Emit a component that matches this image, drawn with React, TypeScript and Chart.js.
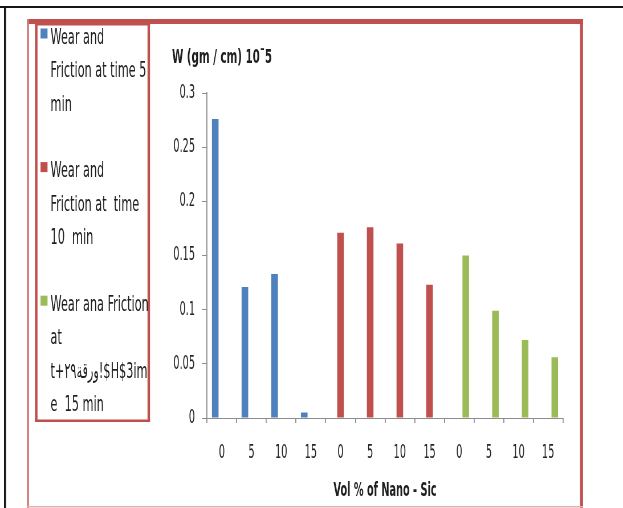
import { useEffect, useRef } from "react";
import { Chart, registerables } from "chart.js";

Chart.register(...registerables);

// ---------- data ----------
const categories = ["0", "5", "10", "15", "0", "5", "10", "15", "0", "5", "10", "15"];
const seriesNames = [
  "Wear and Friction at time 5 min",
  "Wear and Friction at  time 10  min",
  "Wear ana Friction at t+ورقة۲۹!$H$3ime  15 min",
];
const legendLines = [
  ["Wear and", "Friction at time 5", "min"],
  ["Wear and", "Friction at  time", "10  min"],
  ["Wear ana Friction", "at", "t+ورقة۲۹!$H$3im", "e  15 min"],
];
const wear5min = [0.276, 0.121, 0.133, 0.005, null, null, null, null, null, null, null, null];
const wear10min = [null, null, null, null, 0.171, 0.176, 0.161, 0.123, null, null, null, null];
const wear15min = [null, null, null, null, null, null, null, null, 0.15, 0.099, 0.072, 0.056];
const yTickValues = [0, 0.05, 0.1, 0.15, 0.2, 0.25, 0.3];
const yTickLabels = ["0", "0.05", "0.1", "0.15", "0.2", "0.25", "0.3"];
const yTitle = "W (gm / cm) 10ˉ5";
const xTitle = "Vol % of Nano - Sic";

// ---------- style ----------
const COLORS = ["#4f81bd", "#c0504d", "#9bbb59"];
const FONT = "'Liberation Sans Narrow', 'DejaVu Sans Condensed', 'Liberation Sans', sans-serif";
const DISPLAY_W = 623;
const DISPLAY_H = 508;
const LOGICAL_W = 1093; // drawn wider, shown narrower: gives the condensed look of the original
const SX = LOGICAL_W / DISPLAY_W;
const sx = (x: number) => x * SX;

const framePlugin = {
  id: "frames",
  beforeDraw(chart: any) {
    const ctx = chart.ctx as CanvasRenderingContext2D;
    ctx.save();
    ctx.fillStyle = "#ffffff";
    ctx.fillRect(0, 0, chart.width, chart.height);
    // black page lines
    ctx.fillStyle = "#161616";
    ctx.fillRect(0, 6, chart.width, 2);
    ctx.fillRect(sx(4), 6, sx(2), DISPLAY_H - 6);
    // outer red frame
    ctx.fillStyle = "#c0504d";
    ctx.fillRect(sx(27), 19, sx(556), 5);
    ctx.fillRect(sx(580), 19, sx(3), DISPLAY_H - 19);
    ctx.fillStyle = "#d07a77";
    ctx.fillRect(sx(27), 19, sx(2), DISPLAY_H - 19);
    ctx.fillStyle = "#e6adac";
    ctx.fillRect(sx(27), 506, sx(556), 1.5);
    ctx.restore();
  },
  afterDraw(chart: any) {
    const ctx = chart.ctx as CanvasRenderingContext2D;
    ctx.save();
    // legend box
    ctx.fillStyle = "#c0504d";
    ctx.fillRect(sx(35), 23, sx(115), 2.5);
    ctx.fillRect(sx(35), 419.5, sx(115), 2.5);
    ctx.fillRect(sx(35), 23, sx(2.5), 399);
    ctx.fillRect(sx(147.5), 23, sx(2.5), 399);
    // legend entries
    const lineGap = 33.4;
    let k = 0;
    ctx.font = `22px ${FONT}`;
    ctx.textBaseline = "middle";
    ctx.textAlign = "left";
    legendLines.forEach((lines, i) => {
      const yc = 37 + k * lineGap;
      ctx.fillStyle = COLORS[i];
      ctx.fillRect(sx(40.5), yc - 8.5, sx(7), 10);
      ctx.fillStyle = "#1f1f1f";
      lines.forEach((t, j) => {
        ctx.fillText(t, sx(50.5), 38 + (k + j) * lineGap);
      });
      k += lines.length + 1;
    });
    // value axis title (horizontal, above the axis)
    ctx.font = `bold 20px ${FONT}`;
    ctx.fillStyle = "#1f1f1f";
    ctx.fillText(yTitle, sx(172), 58);
    ctx.restore();
  },
};

export default function App() {
  const ref = useRef<HTMLCanvasElement | null>(null);

  useEffect(() => {
    if (!ref.current) return;
    const yAxisWidth = 80;
    const chart = new Chart(ref.current, {
      type: "bar",
      data: {
        labels: categories,
        datasets: [
          { label: seriesNames[0], data: wear5min, backgroundColor: COLORS[0] },
          { label: seriesNames[1], data: wear10min, backgroundColor: COLORS[1] },
          { label: seriesNames[2], data: wear15min, backgroundColor: COLORS[2] },
        ],
      },
      options: {
        responsive: false,
        devicePixelRatio: 1,
        animation: false,
        datasets: { bar: { categoryPercentage: 0.667, barPercentage: 1.0 } },
        layout: {
          padding: { left: sx(207) - yAxisWidth, right: LOGICAL_W - sx(563), top: 93, bottom: 0 },
        },
        plugins: { legend: { display: false }, tooltip: { enabled: false }, title: { display: false } },
        scales: {
          x: {
            grid: {
              drawOnChartArea: false,
              drawTicks: true,
              tickLength: 5,
              color: "#8c8c8c",
              lineWidth: SX,
              offset: true,
            },
            border: { color: "#8c8c8c", width: 1 },
            ticks: {
              font: { family: FONT, size: 19 },
              color: "#262626",
              padding: 18.6,
              maxRotation: 0,
              autoSkip: false,
            },
            title: {
              display: true,
              text: xTitle,
              font: { family: FONT, size: 19, weight: "bold" },
              color: "#1f1f1f",
              padding: { top: 0, bottom: 5.6 },
            },
            afterFit: (scale: any) => {
              scale.height = 90;
            },
          },
          y: {
            min: 0,
            max: 0.3,
            afterBuildTicks: (scale: any) => {
              scale.ticks = yTickValues.map((v) => ({ value: v }));
            },
            grid: {
              drawOnChartArea: false,
              drawTicks: true,
              tickLength: sx(5),
              color: "#8c8c8c",
              lineWidth: 1,
            },
            border: { color: "#8c8c8c", width: SX },
            ticks: {
              font: { family: FONT, size: 19 },
              color: "#262626",
              padding: sx(7),
              callback: (_v: any, i: number) => yTickLabels[i],
            },
            afterFit: (scale: any) => {
              scale.width = yAxisWidth;
            },
          },
        },
      },
      plugins: [framePlugin],
    });
    return () => chart.destroy();
  }, []);

  return (
    <div style={{ position: "absolute", left: 0, top: 0, width: DISPLAY_W, height: DISPLAY_H, overflow: "hidden" }}>
      <canvas
        ref={ref}
        width={LOGICAL_W}
        height={DISPLAY_H}
        style={{ width: `${DISPLAY_W}px`, height: `${DISPLAY_H}px`, display: "block" }}
      />
    </div>
  );
}
